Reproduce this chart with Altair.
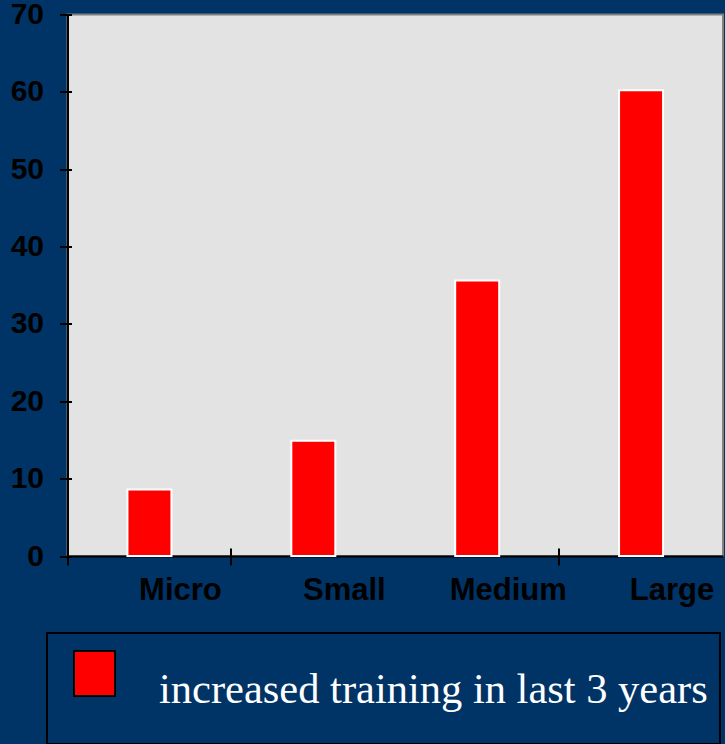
import altair as alt
import pandas as pd

# Share of firms reporting increased training, by firm size
categories = ["Micro", "Small", "Medium", "Large"]
values = [8.6, 14.9, 35.6, 60.2]
series_name = "increased training in last 3 years"
y_ticks = [0, 10, 20, 30, 40, 50, 60, 70]
x_tick_categories = ["Micro", "Small", "Large"]

df = pd.DataFrame({
    "size": categories,
    "pct": values,
    "series": [series_name] * len(categories),
})

NAVY = "#003366"
SANS = "Liberation Sans"
SERIF = "Liberation Serif"

# swatch path sits a little below the entry centre so the label reads lower than the swatch
SWATCH = "M-0.911,-0.778H0.911V1.222H-0.911Z"

# main layer: bars, category labels, value labels, legend
bars = alt.Chart(df).mark_bar(size=44, stroke="white", strokeWidth=2).encode(
    x=alt.X(
        "size:N",
        sort=categories,
        scale=alt.Scale(paddingInner=0, paddingOuter=0),
        axis=alt.Axis(
            orient="bottom", title=None, grid=False,
            domain=True, domainColor="black", domainWidth=2,
            ticks=False, tickSize=0,
            labelFont=SANS, labelFontSize=31, labelFontWeight="bold",
            labelColor="black", labelAngle=0, labelOffset=31, labelPadding=19,
        ),
    ),
    y=alt.Y(
        "pct:Q",
        scale=alt.Scale(domain=[0, 70], nice=False, zero=True),
        axis=alt.Axis(
            orient="left", title=None, grid=False, values=y_ticks,
            domain=True, domainColor="black", domainWidth=2,
            ticks=False, tickSize=0,
            labelFont=SANS, labelFontSize=30, labelFontWeight="bold",
            labelColor="black", labelPadding=24,
        ),
    ),
    color=alt.Color(
        "series:N",
        scale=alt.Scale(domain=[series_name], range=["#ff0000"]),
        legend=alt.Legend(
            title=" ", titleOrient="bottom", titleFontSize=15, titlePadding=6,
            orient="none", legendX=-20.5, legendY=618.5,
            fillColor=NAVY, strokeColor="black", padding=12,
            symbolType=SWATCH, symbolSize=2025,
            symbolStrokeColor="black", symbolStrokeWidth=2, symbolOffset=12,
            labelFont=SERIF, labelFontSize=42.5, labelColor="white",
            labelOffset=41, labelLimit=700, labelBaseline="top",
        ),
    ),
)

# second layer only carries the crossing tick marks of both axes
ticks = alt.Chart(df).mark_bar(opacity=0).encode(
    x=alt.X(
        "size:N",
        sort=categories,
        axis=alt.Axis(
            orient="bottom", title=None, grid=False, values=x_tick_categories,
            bandPosition=0, domain=False, labels=False,
            ticks=True, tickSize=17, tickWidth=2, tickColor="black", offset=-8,
        ),
    ),
    y=alt.Y(
        "pct:Q",
        scale=alt.Scale(domain=[0, 70], nice=False, zero=True),
        axis=alt.Axis(
            orient="left", title=None, grid=False, values=y_ticks,
            domain=False, labels=False,
            ticks=True, tickSize=12, tickWidth=2, tickColor="black", offset=-4,
        ),
    ),
)

chart = (
    alt.layer(bars, ticks)
    .resolve_axis(x="independent", y="independent")
    .properties(
        width=655.5,
        height=541.5,
        background=NAVY,
        autosize=alt.AutoSizeParams(type="none"),
        padding={"left": 67.5, "top": 14.5, "right": 1.5, "bottom": 188},
    )
    .configure_view(fill="#e3e3e3", stroke="#808080", strokeWidth=2)
    .configure_legend(strokeWidth=2)
)

chart.save("out.html", embed_options={"renderer": "svg", "actions": False})
